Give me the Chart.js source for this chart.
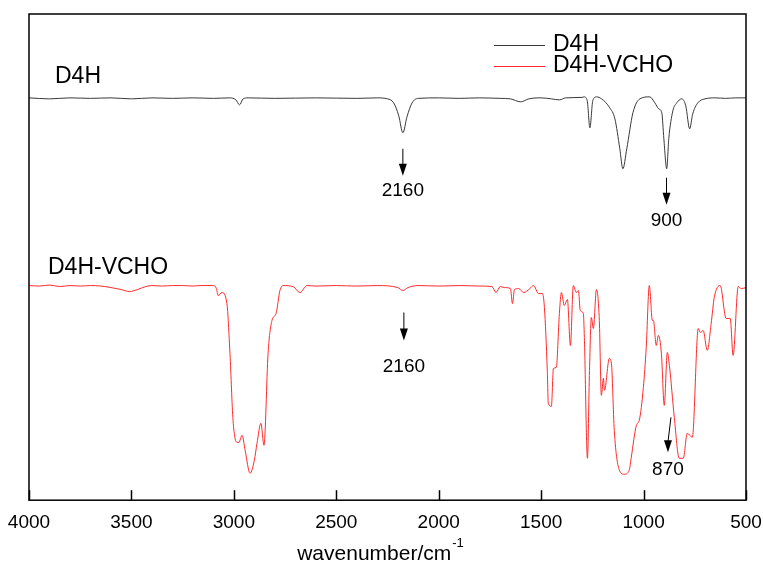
<!DOCTYPE html>
<html>
<head>
<meta charset="utf-8">
<script src="https://cdn.jsdelivr.net/npm/chart.js@4.4.0/dist/chart.umd.min.js"></script>
<style>
  html, body { margin: 0; padding: 0; background: #fff; }
  canvas { display: block; }
</style>
</head>
<body>
<canvas id="ftirChart" width="763" height="571"></canvas>
<script>
// wavenumber (cm-1) and offset transmittance (arb. units)
const d4hWave = [4000, 3900, 3800, 3700, 3600, 3500, 3400, 3300, 3200, 3100, 3020, 2990, 2972, 2955, 2930,
    2800, 2600, 2400, 2300, 2250, 2220, 2195, 2175, 2155, 2130, 2100, 2000, 1900, 1800, 1700, 1650, 1600,
    1560, 1500, 1450, 1410, 1380, 1300, 1290, 1275, 1262, 1248, 1230, 1205, 1165, 1140, 1116, 1101, 1082,
    1052, 1018, 970, 945, 926, 911, 901, 887, 877, 857, 838, 814, 794, 775, 760, 735, 700, 650, 600, 550, 500];
const d4hValue = [403, 402, 403, 402.5, 403, 402, 403, 402.5, 403, 402.5, 403, 401, 396, 402, 403,
    402.5, 403, 402.5, 403, 402, 398, 385, 368, 384, 398, 402.5, 403, 402.5, 403, 402.5, 402, 399,
    402, 403, 402, 401, 403, 403.5, 404, 400, 373, 400, 404, 402, 393, 382, 352, 332, 352,
    388, 402, 404, 398, 392, 388, 362, 332, 362, 390, 398, 402, 395, 372, 387, 398, 402, 403, 402.5, 403, 403];

const vchoWave = [4000, 3950, 3900, 3850, 3800, 3750, 3700, 3650, 3600, 3550, 3510, 3470, 3430, 3400, 3350,
    3300, 3250, 3200, 3165, 3102, 3085, 3077, 3058, 3034, 3019, 3004, 2985, 2975, 2960, 2945, 2921, 2900,
    2887, 2868, 2853, 2833, 2814, 2794, 2775, 2760, 2711, 2677, 2643, 2600, 2500, 2400, 2300, 2200, 2175,
    2150, 2100, 2000, 1900, 1800, 1740, 1720, 1700, 1680, 1650, 1640, 1630, 1610, 1585, 1555, 1537, 1513,
    1494, 1484, 1470, 1465, 1450, 1440, 1426, 1411, 1401, 1387, 1372, 1357, 1343, 1328, 1318, 1309, 1294,
    1289, 1274, 1264, 1255, 1245, 1230, 1216, 1206, 1196, 1191, 1167, 1157, 1143, 1118, 1094, 1070, 1060,
    1035, 1021, 1001, 987, 972, 957, 952, 938, 928, 913, 899, 884, 874, 850, 826, 806, 787, 762, 733, 723,
    709, 689, 670, 655, 626, 597, 577, 563, 538, 523, 500];
const vchoValue = [215, 214.5, 215.5, 214, 215, 214.5, 215, 214.5, 213, 211, 209, 211, 214, 215, 214.5,
    215, 215, 214.5, 215, 215, 212, 205, 208, 197, 147, 80, 58, 58, 65, 50, 27, 40,
    57, 77, 55, 147, 180, 187, 210, 215, 214, 208, 215, 214.5, 215, 214.5, 215, 213, 210,
    213, 215, 214.5, 215, 214.5, 214, 208, 214, 213, 212, 197, 211, 212, 208, 212, 215, 207,
    207, 193, 130, 97, 94, 132, 133, 187, 208, 195, 201, 155, 215, 208, 210, 190, 187,
    163, 42, 130, 183, 172, 211, 180, 105, 122, 110, 142, 137, 70, 30, 26, 30, 43,
    75, 80, 113, 153, 215, 180, 180, 155, 165, 147, 95, 148, 135, 83, 42, 42, 67, 63, 172, 168,
    170, 150, 177, 203, 215, 182, 182, 145, 214, 212, 213];

const xTicks = [4000, 3500, 3000, 2500, 2000, 1500, 1000, 500];

// peak marks: label, wavenumber, arrow start/end (y units), label y
const peakMarks = [
    { text: '2160', x: 2175, from: 352, to: 325, labelY: 310, ax: 0 },
    { text: '900', x: 888, from: 323, to: 296, labelY: 280, ax: 0 },
    { text: '2160', x: 2170, from: 188, to: 160, labelY: 134, ax: 0 },
    { text: '870', x: 881, from: 83, to: 48, labelY: 30, ax: 3 }
];
const seriesNames = ['D4H', 'D4H-VCHO'];

function toPoints(xs, ys) {
    return xs.map((x, i) => ({ x: x, y: ys[i] }));
}

const frame = {
    id: 'frame',
    afterDraw(chart) {
        const ctx = chart.ctx;
        const a = chart.chartArea;
        const xs = chart.scales.x;
        const ys = chart.scales.y;
        ctx.save();
        ctx.strokeStyle = '#000';
        ctx.lineWidth = 1.5;
        ctx.strokeRect(a.left, a.top, a.right - a.left, a.bottom - a.top);

        // inward tick marks
        xTicks.forEach(v => {
            const px = Math.round(xs.getPixelForValue(v)) + 0.5;
            ctx.beginPath();
            ctx.moveTo(px, a.bottom);
            ctx.lineTo(px, a.bottom - 10);
            ctx.stroke();
        });

        // axis title
        ctx.fillStyle = '#000';
        ctx.textBaseline = 'alphabetic';
        ctx.font = '21px "Liberation Sans", Arial, sans-serif';
        const main = 'wavenumber/cm';
        const w = ctx.measureText(main).width;
        ctx.font = '13px "Liberation Sans", Arial, sans-serif';
        const w2 = ctx.measureText('-1').width;
        const x0 = 380 - (w + w2) / 2;
        ctx.font = '21px "Liberation Sans", Arial, sans-serif';
        ctx.fillText(main, x0, 560);
        ctx.font = '13px "Liberation Sans", Arial, sans-serif';
        ctx.fillText('-1', x0 + w + 1, 547);

        // legend
        ctx.font = '23px "Liberation Sans", Arial, sans-serif';
        ctx.textBaseline = 'middle';
        chart.data.datasets.forEach((ds, i) => {
            const y = 45 + i * 21;
            ctx.strokeStyle = ds.borderColor;
            ctx.lineWidth = 1;
            ctx.beginPath();
            ctx.moveTo(494, y + 0.5);
            ctx.lineTo(545, y + 0.5);
            ctx.stroke();
            ctx.fillStyle = '#000';
            ctx.fillText(ds.label, 553, y);
        });

        // series labels
        ctx.textAlign = 'left';
        ctx.fillText(seriesNames[0], 55, 77);
        ctx.fillText(seriesNames[1], 48, 268);

        // peak arrows
        ctx.font = '19px "Liberation Sans", Arial, sans-serif';
        ctx.textAlign = 'center';
        ctx.strokeStyle = '#000';
        ctx.fillStyle = '#000';
        ctx.lineWidth = 1;
        peakMarks.forEach(m => {
            const px = xs.getPixelForValue(m.x);
            const y1 = ys.getPixelForValue(m.from);
            const y2 = ys.getPixelForValue(m.to);
            const x1 = px + m.ax;
            ctx.beginPath();
            ctx.moveTo(x1, y1);
            ctx.lineTo(px, y2 - 10);
            ctx.stroke();
            ctx.beginPath();
            ctx.moveTo(px, y2);
            ctx.lineTo(px - 4, y2 - 12);
            ctx.lineTo(px + 4, y2 - 12);
            ctx.closePath();
            ctx.fill();
            ctx.fillText(m.text, px, ys.getPixelForValue(m.labelY));
        });
        ctx.restore();
    }
};

function drawChart() {
    const ctx = document.getElementById('ftirChart').getContext('2d');
    new Chart(ctx, {
        type: 'line',
        data: {
            datasets: [{
                label: 'D4H',
                data: toPoints(d4hWave, d4hValue),
                borderColor: '#3a3a3a',
                borderWidth: 1,
                pointRadius: 0,
                cubicInterpolationMode: 'monotone'
            }, {
                label: 'D4H-VCHO',
                data: toPoints(vchoWave, vchoValue),
                borderColor: '#ff2b2b',
                borderWidth: 1,
                pointRadius: 0,
                cubicInterpolationMode: 'monotone'
            }]
        },
        options: {
            responsive: false,
            animation: false,
            devicePixelRatio: 1,
            layout: {
                padding: { left: 29, right: 17, top: 14, bottom: 26 }
            },
            scales: {
                x: {
                    type: 'linear',
                    reverse: true,
                    min: 500,
                    max: 4000,
                    afterBuildTicks: scale => {
                        scale.ticks = xTicks.map(v => ({ value: v }));
                    },
                    afterFit: scale => {
                        scale.paddingLeft = 0;
                        scale.paddingRight = 0;
                    },
                    grid: { display: false, drawTicks: false },
                    border: { display: false },
                    ticks: {
                        padding: 11,
                        maxRotation: 0,
                        autoSkip: false,
                        color: '#000',
                        callback: v => String(v),
                        font: { family: '"Liberation Sans", Arial, sans-serif', size: 19 }
                    }
                },
                y: {
                    display: false,
                    min: 0,
                    max: 487
                }
            },
            plugins: {
                legend: { display: false },
                tooltip: { enabled: false }
            }
        },
        plugins: [frame]
    });
}

document.addEventListener('DOMContentLoaded', drawChart);
</script>
</body>
</html>
